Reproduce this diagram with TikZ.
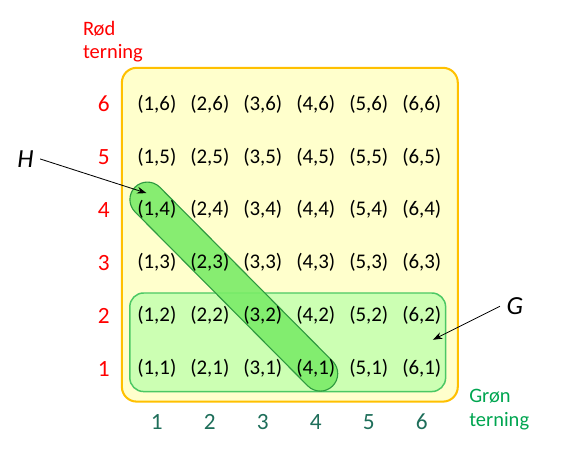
\documentclass[tikz,border=0pt]{standalone}
\usepackage{fontspec}
\setmainfont{Carlito}
\usetikzlibrary{arrows.meta,positioning,calc}
\definecolor{dieyel}{HTML}{FFFFCC}
\definecolor{dieyeldraw}{HTML}{FFC000}
\definecolor{redlab}{HTML}{FF0000}
\definecolor{grnlab}{HTML}{00A550}
\definecolor{tealnum}{HTML}{1E6E5A}
\definecolor{gfill}{HTML}{CCFFB3}
\definecolor{gdraw}{HTML}{4CC864}
\definecolor{hfill}{HTML}{7AEC68}
\definecolor{hdraw}{HTML}{2E9940}
\tikzset{
  outcome/.style={font=\fontsize{11.2}{13}\selectfont,inner sep=0pt},
  rednum/.style={font=\fontsize{12.5}{14}\selectfont,text=redlab},
  grnnum/.style={font=\fontsize{12.5}{14}\selectfont,text=tealnum},
  dielabel/.style={font=\fontsize{11}{12.5}\selectfont,align=left,
                   inner sep=0pt,anchor=west},
  setlabel/.style={font=\fontsize{14}{16}\selectfont\itshape},
  gset/.style={draw=gdraw,fill=gfill,line width=0.8pt,
               minimum width=5.96cm,minimum height=1.86cm,
               rounded corners=0.26cm,inner sep=0pt},
  hset/.style={draw=hdraw,fill=hfill,fill opacity=0.9,line width=0.6pt,
               minimum width=5.29cm,minimum height=0.66cm,
               rounded corners=0.33cm,inner sep=0pt},
  setarr/.style={-{Stealth[length=1.8mm,width=1.3mm]},line width=0.45pt}
}
\begin{document}
\begin{tikzpicture}[x=1cm,y=1cm]
  \useasboundingbox (-1.96,-0.77) rectangle (8.93,7.96);
  % utfallsrommet
  \draw[dieyeldraw,fill=dieyel,line width=1.1pt,rounded corners=0.28cm]
    (0.34,0.38) rectangle (6.68,6.68);
  \node[gset] (Gset) at (3.47,1.50) {};
  \node[hset,rotate=-45.2] (Hset) at (2.453,2.551) {};
  \foreach \i in {1,...,6} {
    \node[rednum] (r\i) at (0,\i) {\i};
    \node[grnnum] (c\i) at (\i,0) {\i};
    \foreach \j in {1,...,6}
      \node[outcome] (o\i\j) at (\i,\j) {(\i,\j)};
  }
  \node[dielabel,text=redlab] (roddie) at (-0.40,7.17) {Rød\\terning};
  \node[dielabel,text=grnlab] (grondie) at (6.89,0.23) {Grøn\\terning};
  % hendelsene
  \node[setlabel] (Hlab) at (-1.48,4.96) {H};
  \node[setlabel] (Glab) at (7.755,2.179) {G};
  \coordinate (Htip) at (0.805,4.315);
  \coordinate (Gtip) at (6.21,1.547);
  \draw[setarr] (Hlab.east) -- (Htip);
  \draw[setarr] (Glab.west) -- (Gtip);
\end{tikzpicture}
\end{document}
